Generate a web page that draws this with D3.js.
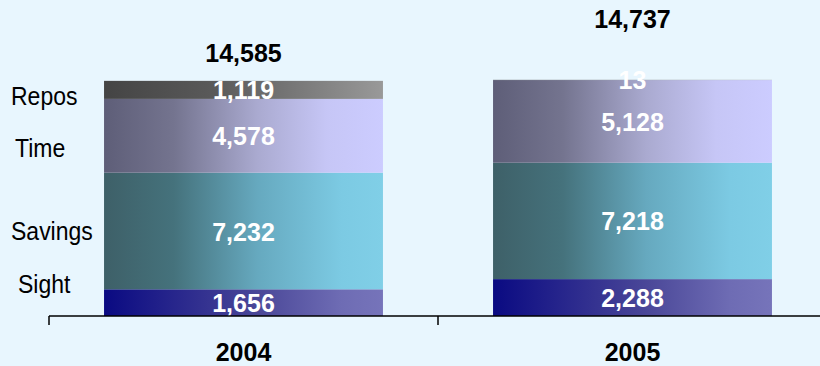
<!DOCTYPE html>
<html>
<head>
<meta charset="utf-8">
<script src="https://cdn.jsdelivr.net/npm/d3@7"></script>
<style>
  html, body { margin: 0; padding: 0; background: #E8F6FE; }
  svg { display: block; }
  text { font-family: "Liberation Sans", Arial, sans-serif; }
</style>
</head>
<body>
<svg id="chart" width="820" height="366"></svg>
<script>
// Deposits by type, 2004 vs 2005
const years = ["2004", "2005"];
const seriesNames = ["Sight", "Savings", "Time", "Repos"];
const sight   = [1656, 2288];
const savings = [7232, 7218];
const time    = [4578, 5128];
const repos   = [1119, 13];
const totals  = [14585, 14737];

// horizontal gradient stops for each series
const gradients = {
  Sight:   [["0%", "#0A0A82"], ["55%", "#4A4798"], ["85%", "#6E6CB4"], ["100%", "#7674BA"]],
  Savings: [["0%", "#3E6068"], ["25%", "#45727C"], ["55%", "#66A9BF"], ["85%", "#7CCAE3"], ["100%", "#80CFE7"]],
  Time:    [["0%", "#5E5E78"], ["25%", "#74748F"], ["55%", "#AAAAD0"], ["80%", "#C6C6F6"], ["100%", "#CCCCFF"]],
  Repos:   [["0%", "#444444"], ["40%", "#5A5A5A"], ["100%", "#999999"]]
};

const svg = d3.select("#chart");
const axisY = 316;

const x = d3.scaleBand().domain(years).range([49, 827])
  .paddingInner(0.283).paddingOuter(0.1415);
const y = d3.scaleLinear().domain([0, 19600]).range([axisY, 0]);

const defs = svg.append("defs");
seriesNames.forEach(name => {
  const g = defs.append("linearGradient")
    .attr("id", "grad-" + name)
    .attr("x1", "0").attr("x2", "1").attr("y1", "0").attr("y2", "0");
  gradients[name].forEach(([o, c]) => g.append("stop").attr("offset", o).attr("stop-color", c));
});

const table = years.map((yr, i) => ({
  year: yr, Sight: sight[i], Savings: savings[i], Time: time[i], Repos: repos[i]
}));
const stacked = d3.stack().keys(seriesNames)(table);

const fmt = d3.format(",");

// stacked segments
const layers = svg.append("g").selectAll("g").data(stacked).join("g")
  .attr("fill", d => `url(#grad-${d.key})`);
layers.selectAll("rect").data(d => d).join("rect")
  .attr("x", d => x(d.data.year))
  .attr("width", x.bandwidth())
  .attr("y", d => y(d[1]))
  .attr("height", d => y(d[0]) - y(d[1]));

// value labels inside each segment
stacked.forEach(layer => {
  svg.append("g").selectAll("text").data(layer).join("text")
    .attr("x", d => x(d.data.year) + x.bandwidth() / 2)
    .attr("y", d => (y(d[0]) + y(d[1])) / 2)
    .attr("dy", "0.38em")
    .attr("text-anchor", "middle")
    .attr("fill", "#FFFFFF")
    .attr("font-weight", "bold")
    .attr("font-size", 25)
    .text(d => fmt(d.data[layer.key]));
});

// totals above the bars
const totalLift = [28, 59];
svg.append("g").selectAll("text").data(totals).join("text")
  .attr("x", (d, i) => x(years[i]) + x.bandwidth() / 2)
  .attr("y", (d, i) => y(d) - totalLift[i])
  .attr("dy", "0.36em")
  .attr("text-anchor", "middle")
  .attr("fill", "#000000")
  .attr("font-weight", "bold")
  .attr("font-size", 25)
  .text(d => fmt(d));

// series names to the left of the first bar
const nameLabels = [
  { name: "Repos",   x: 11, y: 96 },
  { name: "Time",    x: 15, y: 148 },
  { name: "Savings", x: 11, y: 231 },
  { name: "Sight",   x: 18, y: 284 }
];
svg.append("g").selectAll("text").data(nameLabels).join("text")
  .attr("transform", d => `translate(${d.x},${d.y}) scale(0.92,1)`)
  .attr("dy", "0.36em")
  .attr("fill", "#000000")
  .attr("font-size", 25)
  .text(d => d.name);

// category axis
const axis = svg.append("g").attr("transform", `translate(0,${axisY})`);
axis.append("line").attr("x1", 49).attr("x2", 820).attr("y1", 0).attr("y2", 0)
  .attr("stroke", "#000").attr("stroke-width", 1.5);
const tickXs = [x.range()[0], x.range()[0] + x.step()];
axis.selectAll("line.tick").data(tickXs).join("line").attr("class", "tick")
  .attr("x1", d => d).attr("x2", d => d).attr("y1", 0).attr("y2", 9)
  .attr("stroke", "#000").attr("stroke-width", 1.5);
axis.selectAll("text").data(years).join("text")
  .attr("x", d => x(d) + x.bandwidth() / 2)
  .attr("y", 36)
  .attr("dy", "0.36em")
  .attr("text-anchor", "middle")
  .attr("font-weight", "bold")
  .attr("font-size", 25)
  .attr("fill", "#000")
  .text(d => d);
</script>
</body>
</html>
